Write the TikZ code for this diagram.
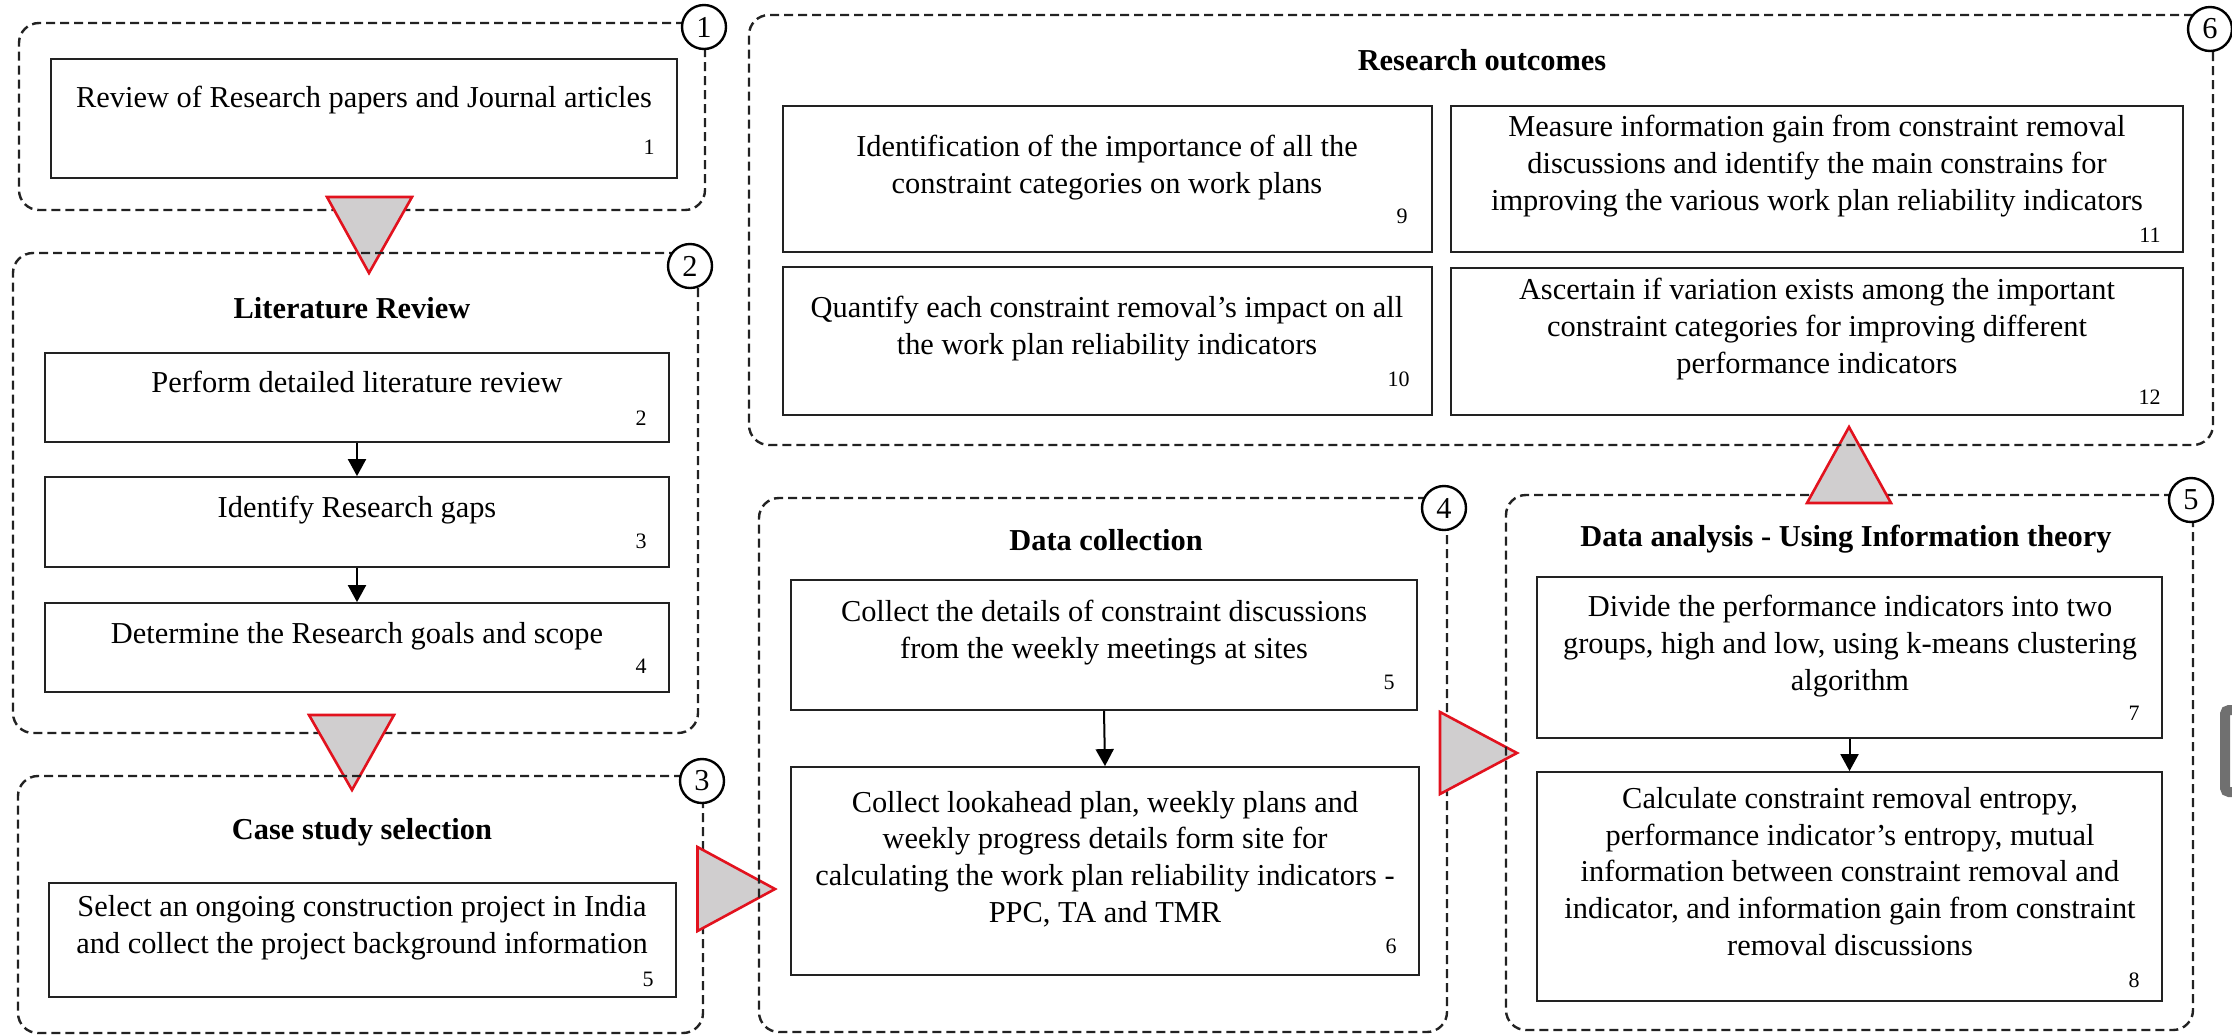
\documentclass[tikz,border=0pt]{standalone}
\usepackage{fontspec}
\setmainfont{Liberation Serif}
\usetikzlibrary{arrows.meta,fit}
\definecolor{triRed}{RGB}{226,18,30}
\definecolor{triGray}{RGB}{208,206,207}
\definecolor{artGray}{RGB}{112,112,112}
\definecolor{lineDark}{RGB}{34,34,34}
\newcommand\bodysize{\fontsize{15.2pt}{18.3pt}\selectfont}
\newcommand\numsize{\fontsize{11pt}{13pt}\selectfont}
\begin{document}
\begin{tikzpicture}[x=0.5pt,y=-0.5pt,
  grp/.style={draw=lineDark, line width=1.2pt, dash pattern=on 4.5pt off 2.5pt, rounded corners=10pt, inner sep=0pt},
  inbox/.style={draw=lineDark, line width=0.9pt, inner sep=0pt},
  badge/.style={circle, draw=black, line width=1.2pt, fill=white, minimum size=22pt, inner sep=0pt, font=\bodysize},
  tri/.style={draw=triRed, fill=triGray, line width=1.3pt, line join=miter},
  txt/.style={align=center, font=\bodysize, inner sep=0pt, anchor=base},
  ttl/.style={font=\bodysize\bfseries, inner sep=0pt, anchor=base},
  numlab/.style={font=\numsize, inner sep=0pt, anchor=base east},
  flow/.style={-{Triangle[length=8.5pt,width=9pt]}, line width=1pt, draw=black}
]
\useasboundingbox (0,0) rectangle (2232,1035);

% (multi-line text nodes are placed at the baseline of their LAST line)

% ---------- group 1 ----------
\node[grp, fit={(19,23)(705,210)}] (g1) {};
\node[inbox, fit={(51,59)(677,178)}] (b1) {};
\node[txt] (b1t) at (364,107) {Review of Research papers and Journal articles};
\node[numlab] (b1n) at (655,154) {1};
\draw[tri] (327,197) -- (412,197) -- (369,273) -- cycle;

% ---------- group 2 ----------
\node[grp, fit={(13,253)(698,733)}] (g2) {};
\node[ttl] (g2t) at (352,318) {Literature Review};
\node[inbox, fit={(45,353)(669,442)}] (b2) {};
\node[txt] (b2t) at (357,392) {Perform detailed literature review};
\node[numlab] (b2n) at (647,425) {2};
\node[inbox, fit={(45,477)(669,567)}] (b3) {};
\node[txt] (b3t) at (357,517) {Identify Research gaps};
\node[numlab] (b3n) at (647,548) {3};
\node[inbox, fit={(45,603)(669,692)}] (b4) {};
\node[txt] (b4t) at (357,643) {Determine the Research goals and scope};
\node[numlab] (b4n) at (647,673) {4};
\draw[flow] (b2.south) -- (b3.north);
\draw[flow] (b3.south) -- (b4.north);
\draw[tri] (309,715) -- (394,715) -- (352,790) -- cycle;

% ---------- group 3 ----------
\node[grp, fit={(18,776)(703,1033)}] (g3) {};
\node[ttl] (g3t) at (362,839) {Case study selection};
\node[inbox, fit={(49,883)(676,997)}] (b5) {};
\node[txt] (b5t) at (362,953) {Select an ongoing construction project in India\\and collect the project background information};
\node[numlab] (b5n) at (654,986) {5};
\draw[tri] (697.5,847) -- (697.5,931) -- (775,889) -- cycle;

% ---------- group 4 ----------
\node[grp, fit={(759,498)(1447,1032)}] (g4) {};
\node[ttl] (g4t) at (1106,550) {Data collection};
\node[inbox, fit={(791,580)(1417,710)}] (b6) {};
\node[txt] (b6t) at (1104,658) {Collect the details of constraint discussions\\from the weekly meetings at sites};
\node[numlab] (b6n) at (1395,689) {5};
\node[inbox, fit={(791,767)(1419,975)}] (b7) {};
\node[txt] (b7t) at (1105,922) {Collect lookahead plan, weekly plans and\\weekly progress details form site for\\calculating the work plan reliability indicators -\\PPC, TA and TMR};
\node[numlab] (b7n) at (1397,953) {6};
\draw[flow] (b6.south) -- (b7.north);
\draw[tri] (1440,712) -- (1440,794) -- (1517,753) -- cycle;

% ---------- group 5 ----------
\node[grp, fit={(1506,495)(2193,1030)}] (g5) {};
\node[ttl] (g5t) at (1846,546) {Data analysis - Using Information theory};
\node[inbox, fit={(1537,577)(2162,738)}] (b8) {};
\node[txt] (b8t) at (1850,690) {Divide the performance indicators into two\\groups, high and low, using k-means clustering\\algorithm};
\node[numlab] (b8n) at (2140,720) {7};
\node[inbox, fit={(1537,772)(2162,1001)}] (b9) {};
\node[txt] (b9t) at (1850,955) {Calculate constraint removal entropy,\\performance indicator’s entropy, mutual\\information between constraint removal and\\indicator, and information gain from constraint\\removal discussions};
\node[numlab] (b9n) at (2140,987) {8};
\draw[flow] (b8.south) -- (b9.north);
\draw[tri] (1807,503) -- (1891,503) -- (1849,427) -- cycle;

% ---------- group 6 ----------
\node[grp, fit={(749,15)(2213,445)}] (g6) {};
\node[ttl] (g6t) at (1482,70) {Research outcomes};
\node[inbox, fit={(783,106)(1432,252)}] (b10) {};
\node[txt] (b10t) at (1107,193) {Identification of the importance of all the\\constraint categories on work plans};
\node[numlab] (b10n) at (1408,223) {9};
\node[inbox, fit={(1451,106)(2183,252)}] (b11) {};
\node[txt] (b11t) at (1817,210) {Measure information gain from constraint removal\\discussions and identify the main constrains for\\improving the various work plan reliability indicators};
\node[numlab] (b11n) at (2161,242) {11};
\node[inbox, fit={(783,267)(1432,415)}] (b12) {};
\node[txt] (b12t) at (1107,354) {Quantify each constraint removal’s impact on all\\the work plan reliability indicators};
\node[numlab] (b12n) at (1410,386) {10};
\node[inbox, fit={(1451,268)(2183,415)}] (b13) {};
\node[txt] (b13t) at (1817,373) {Ascertain if variation exists among the important\\constraint categories for improving different\\performance indicators};
\node[numlab] (b13n) at (2161,404) {12};

% ---------- step badges ----------
\node[badge] (c1) at (704,27) {1};
\node[badge] (c2) at (690,266) {2};
\node[badge] (c3) at (702,781) {3};
\node[badge] (c4) at (1444,508) {4};
\node[badge] (c5) at (2191,500) {5};
\node[badge] (c6) at (2210,29) {6};

% ---------- cropped grey mark at right edge ----------
\draw[artGray, line width=5pt, rounded corners=2pt] (2236,710) -- (2225,710) -- (2225,792) -- (2236,792);
\end{tikzpicture}
\end{document}
